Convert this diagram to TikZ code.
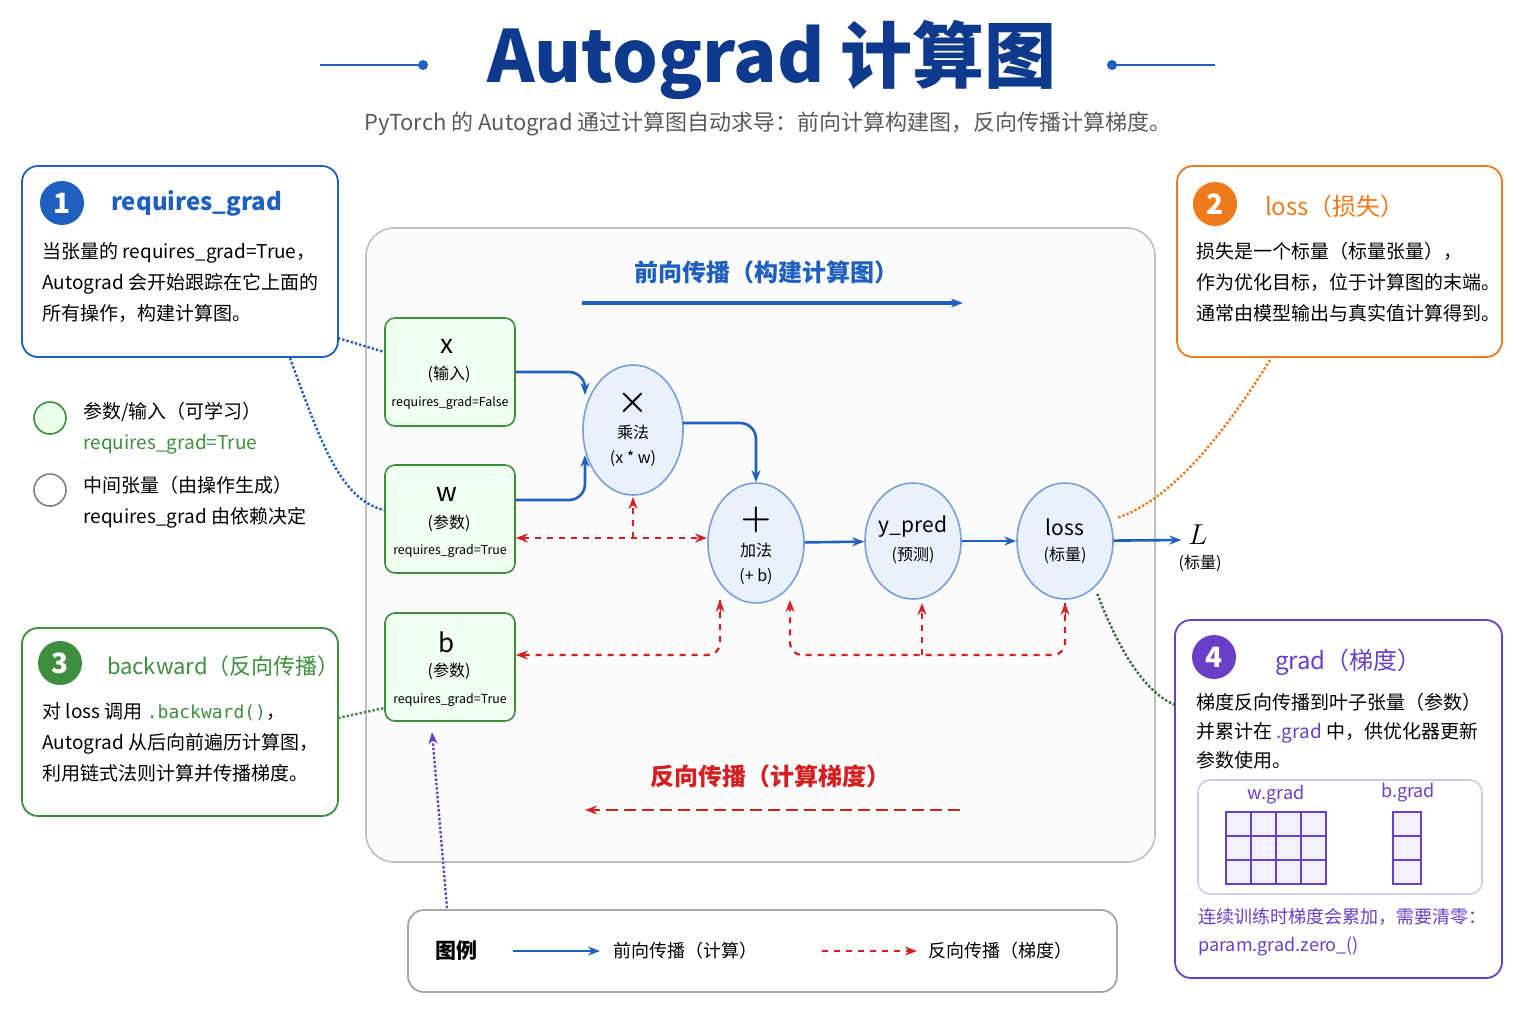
\documentclass[tikz,border=0pt]{standalone}
\usepackage{amsmath}
\usepackage{fontspec}
\setmainfont{Noto Sans CJK SC}
\usetikzlibrary{positioning,arrows.meta,calc}
\definecolor{tblue}{HTML}{0D3A8C}
\definecolor{fblue}{HTML}{1F5FBF}
\definecolor{bred}{HTML}{D42020}
\definecolor{gbox}{HTML}{3E8E3E}
\definecolor{obox}{HTML}{EE7A1C}
\definecolor{pbox}{HTML}{6A3FC8}
\definecolor{nodebg}{HTML}{E9F1FB}
\tikzset{
  fwd/.style={fblue, line width=1.3pt, -{Stealth[length=6pt]}},
  bwd/.style={bred, line width=1.1pt, dashed, -{Stealth[length=6pt]}},
  card/.style={draw, rounded corners=8pt, line width=0.9pt, fill=white},
  num/.style={circle, fill=#1, text=white, minimum size=22pt, inner sep=0pt, font=\bfseries\fontsize{14}{14}\selectfont},
  leaf/.style={draw=gbox, fill=green!6, rounded corners=5pt, line width=0.8pt, minimum width=65pt, minimum height=54pt},
  op/.style={ellipse, draw=fblue!60, fill=nodebg, line width=0.8pt},
  body/.style={font=\fontsize{9.5}{15.5}\selectfont, align=left, anchor=north west, inner sep=0pt},
  small/.style={font=\fontsize{6.2}{8}\selectfont},
  mid/.style={font=\fontsize{8}{9}\selectfont},
}
\usetikzlibrary{shapes.geometric}
\begin{document}
\begin{tikzpicture}[x=0.5pt, y=-0.5pt]
  \useasboundingbox (0,0) rectangle (1536,1024);
  % title
  \node[font=\bfseries\fontsize{36}{36}\selectfont, text=tblue] (title) at (772,60) {Autograd 计算图};
  \draw[fblue, line width=0.8pt] (320,65) -- (423,65);
  \fill[fblue] (423,65) circle (5);
  \draw[fblue, line width=0.8pt] (1112,65) -- (1215,65);
  \fill[fblue] (1112,65) circle (5);
  \node[font=\fontsize{11}{12}\selectfont, text=black!65] (sub) at (768,124) {PyTorch 的 Autograd 通过计算图自动求导：前向计算构建图，反向传播计算梯度。};

  % main panel
  \draw[black!25, fill=black!1, rounded corners=14pt, line width=0.8pt] (366,228) rectangle (1155,862);
  \node[font=\bfseries\fontsize{12}{14}\selectfont, text=fblue] (fwdlbl) at (766,272) {前向传播（构建计算图）};
  \coordinate (f1) at (582,303); \coordinate (f2) at (963,303);
  \draw[fwd, line width=1.6pt] (f1) -- (f2);
  \node[font=\bfseries\fontsize{12}{14}\selectfont, text=bred] (bwdlbl) at (770,776) {反向传播（计算梯度）};
  \coordinate (b1) at (960,810); \coordinate (b2) at (585,810);
  \draw[bwd, line width=1.4pt, dash pattern=on 6pt off 3pt] (b1) -- (b2);

  % leaf nodes
  \node[leaf] (x) at (450,372) {};
  \node[font=\fontsize{13}{13}\selectfont] at (447,346) {x};
  \node[mid] at (449,374) {(输入)};
  \node[small] at (450,403) {requires\_grad=False};
  \node[leaf] (w) at (450,519) {};
  \node[font=\fontsize{13}{13}\selectfont] at (447,494) {w};
  \node[mid] at (449,523) {(参数)};
  \node[small] at (450,551) {requires\_grad=True};
  \node[leaf] (b) at (450,667) {};
  \node[font=\fontsize{13}{13}\selectfont] at (447,642) {b};
  \node[mid] at (449,671) {(参数)};
  \node[small] at (450,700) {requires\_grad=True};

  % op nodes
  \node[op, minimum width=50pt, minimum height=65pt] (mul) at (633,430) {};
  \node[font=\fontsize{16}{16}\selectfont] at (633,403) {$\boldsymbol{\times}$};
  \node[mid] at (633,432) {乘法};
  \node[mid] at (633,459) {(x * w)};
  \node[op, minimum width=48pt, minimum height=60pt] (add) at (756,543) {};
  \node[font=\fontsize{16}{16}\selectfont] at (756,520) {$\boldsymbol{+}$};
  \node[mid] at (756,550) {加法};
  \node[mid] at (756,577) {(+ b)};
  \node[op, minimum width=48pt, minimum height=58pt] (ypred) at (913,541) {};
  \node[font=\fontsize{10.5}{12}\selectfont] at (913,527) {y\_pred};
  \node[mid] at (913,555) {(预测)};
  \node[op, minimum width=48pt, minimum height=58pt] (loss) at (1065,541) {};
  \node[font=\fontsize{10.5}{12}\selectfont] at (1065,527) {loss};
  \node[mid] at (1065,555) {(标量)};
  \node[font=\fontsize{14}{14}\selectfont] (L) at (1198,535) {$L$};
  \node[mid] at (1200,563) {(标量)};

  % forward edges
  \draw[fwd, rounded corners=8pt] (x.east |- 0,372) -- (585,372) -- (585,395);
  \draw[fwd, rounded corners=8pt] (w.east |- 0,500) -- (585,500) -- (585,455);
  \draw[fwd, rounded corners=8pt] (683,423) -- (756,423) -- (add.north);
  \draw[fwd] (add) -- (ypred);
  \draw[fwd] (ypred) -- (loss);
  \draw[fwd] (loss) -- (L.west |- 0,540);

  % backward edges
  \draw[bwd, {Stealth[length=6pt]}-{Stealth[length=6pt]}] (w.east |- 0,538) -- (707,538);
  \draw[bwd] (633,538) -- (633,497);
  \draw[bwd, rounded corners=6pt] (720,600) -- (720,655) -- (b.east |- 0,655);
  \draw[bwd, rounded corners=6pt] (1065,603) -- (1065,655) -- (790,655) -- (790,600);
  \draw[bwd] (922,655) -- (922,603);
  \draw[bred, -{Stealth[length=6pt]}] (720,612) -- (720,600);
  \draw[bred, -{Stealth[length=6pt]}] (1065,615) -- (1065,603);

  % box 1
  \draw[card, draw=fblue] (22,166) rectangle (338,357);
  \node[num=fblue] (n1) at (62,203) {1};
  \node[font=\bfseries\fontsize{12}{14}\selectfont, text=fblue, anchor=west] (t1) at (104,203) {requires\_grad};
  \node[body] (d1) at (42,242) {当张量的 requires\_grad=True，\\Autograd 会开始跟踪在它上面的\\所有操作，构建计算图。};

  % legend circles
  \draw[gbox, fill=green!8, line width=0.8pt] (50,418) circle (16);
  \node[body] (lg1) at (83,402) {参数/输入（可学习）\\\textcolor{gbox}{requires\_grad=True}};
  \draw[black!50, fill=white, line width=0.8pt] (50,490) circle (16);
  \node[body] (lg2) at (83,476) {中间张量（由操作生成）\\requires\_grad 由依赖决定};

  % box 3
  \draw[card, draw=gbox] (22,628) rectangle (338,816);
  \node[num=gbox] (n3) at (60,663) {3};
  \node[font=\fontsize{11}{14}\selectfont, text=gbox, anchor=west] (t3) at (100,666) {backward（反向传播）};
  \node[body] (d3) at (42,702) {对 loss 调用 \textcolor{gbox}{\fontspec{DejaVu Sans Mono}\fontsize{9}{10}\selectfont.backward()}，\\Autograd 从后向前遍历计算图，\\利用链式法则计算并传播梯度。};

  % box 2
  \draw[card, draw=obox] (1177,166) rectangle (1502,357);
  \node[num=obox] (n2) at (1215,204) {2};
  \node[font=\fontsize{12}{14}\selectfont, text=obox, anchor=west] (t2) at (1258,206) {loss（损失）};
  \node[body] (d2) at (1196,242) {损失是一个标量（标量张量），\\作为优化目标，位于计算图的末端。\\通常由模型输出与真实值计算得到。};

  % box 4
  \draw[card, draw=pbox] (1175,620) rectangle (1502,978);
  \node[num=pbox] (n4) at (1214,657) {4};
  \node[font=\fontsize{12}{14}\selectfont, text=pbox, anchor=west] (t4) at (1268,662) {grad（梯度）};
  \node[body, font=\fontsize{9.5}{14.5}\selectfont] (d4) at (1196,693) {梯度反向传播到叶子张量（参数）\\并累计在 \textcolor{pbox}{.grad} 中，供优化器更新\\参数使用。};
  \draw[pbox!30, rounded corners=6pt, line width=0.8pt] (1198,780) rectangle (1482,894);
  \node[font=\fontsize{9}{10}\selectfont, text=pbox] (wg) at (1276,795) {w.grad};
  \node[font=\fontsize{9}{10}\selectfont, text=pbox] (bg) at (1408,793) {b.grad};
  \draw[pbox, fill=pbox!8, line width=0.7pt] (1226,812) rectangle (1326,884);
  \foreach \xx in {1251,1276,1301} \draw[pbox, line width=0.7pt] (\xx,812) -- (\xx,884);
  \foreach \yy in {836,860} \draw[pbox, line width=0.7pt] (1226,\yy) -- (1326,\yy);
  \draw[pbox, fill=pbox!8, line width=0.7pt] (1393,812) rectangle (1421,884);
  \foreach \yy in {836,860} \draw[pbox, line width=0.7pt] (1393,\yy) -- (1421,\yy);
  \node[body, font=\fontsize{9}{14}\selectfont, text=pbox] (d4b) at (1198,908) {连续训练时梯度会累加，需要清零：\\param.grad.zero\_()};

  % legend box
  \draw[card, draw=black!35] (408,910) rectangle (1117,992);
  \node[font=\bfseries\fontsize{10.5}{12}\selectfont] (lgt) at (456,951) {图例};
  \coordinate (l1) at (513,951); \coordinate (l2) at (600,951);
  \draw[fwd] (l1) -- (l2);
  \node[font=\fontsize{9}{10}\selectfont] (lf) at (685,951) {前向传播（计算）};
  \coordinate (l3) at (822,951); \coordinate (l4) at (917,951);
  \draw[bwd] (l3) -- (l4);
  \node[font=\fontsize{9}{10}\selectfont] (lb) at (1000,951) {反向传播（梯度）};

  % dotted callouts
  \draw[fblue, densely dotted, line width=1.2pt] (338,338) -- (x.west |- 0,352);
  \draw[fblue, densely dotted, line width=1.2pt] (290,358) .. controls (320,440) and (340,500) .. (w.west |- 0,510);
  \draw[gbox, densely dotted, line width=1.2pt] (338,718) -- (b.west |- 0,708);
  \draw[pbox, densely dotted, line width=1.2pt, -{Stealth[length=6pt]}] (447,908) -- (432,732);
  \draw[obox, densely dotted, line width=1.2pt] (1270,360) .. controls (1220,440) and (1170,500) .. (1117,518);
  \draw[gbox!80!black, densely dotted, line width=1.2pt] (1175,705) .. controls (1140,690) and (1115,640) .. (1097,593);
\end{tikzpicture}
\end{document}
